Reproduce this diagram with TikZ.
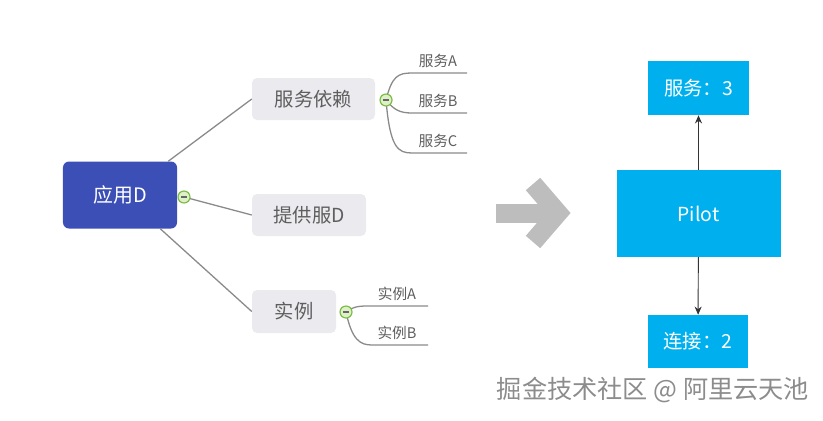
\documentclass[tikz,border=0pt]{standalone}
\usepackage{fontspec}
\newfontfamily\cjk{Noto Sans CJK SC}
\usetikzlibrary{arrows.meta}

\definecolor{appblue}{HTML}{3C4FB6}
\definecolor{topicgray}{HTML}{EBEBEF}
\definecolor{topictext}{HTML}{5E5E5E}
\definecolor{linegray}{HTML}{8A8A8A}
\definecolor{foldgreen}{HTML}{7CBB44}
\definecolor{foldfill}{HTML}{DDF0C8}
\definecolor{pilotcyan}{HTML}{00B0EE}
\definecolor{chevgray}{HTML}{BDBDBD}

\tikzset{
  root/.style={fill=appblue, text=white, rounded corners=0.18cm, font=\cjk\fontsize{17}{20}\selectfont},
  topic/.style={fill=topicgray, text=topictext, rounded corners=0.15cm, font=\cjk\fontsize{16.5}{20}\selectfont},
  leaf/.style={text=topictext, anchor=south, inner sep=2pt, font=\cjk\fontsize{12.5}{15}\selectfont},
  branch/.style={draw=linegray, line width=1.1pt},
  cyanbox/.style={fill=pilotcyan, text=white, font=\cjk\fontsize{16.5}{20}\selectfont},
  link/.style={draw=black!80, line width=0.8pt, -{Stealth[length=7pt,width=6pt]}}
}

\newcommand{\foldmark}[1]{%
  \filldraw[fill=foldfill, draw=foldgreen, line width=1pt] (#1) circle (0.18cm);
  \draw[black!60, line width=1.2pt] ([xshift=-0.09cm]#1) -- ([xshift=0.09cm]#1);
}

\begin{document}
\begin{tikzpicture}[x=0.03cm, y=-0.03cm]
  \useasboundingbox (0,0) rectangle (823,420);

  % Mind map: the application and its topics
  \node[root, minimum width=3.42cm, minimum height=2.01cm] (app) at (120,195) {应用D};
  \node[topic, minimum width=3.69cm, minimum height=1.26cm] (dep) at (313.5,99) {服务依赖};
  \node[topic, minimum width=3.42cm, minimum height=1.26cm] (prov) at (309,215) {提供服D};
  \node[topic, minimum width=2.52cm, minimum height=1.29cm] (inst) at (294,311.5) {实例};

  % fold markers
  \coordinate (f0) at (184,197);
  \coordinate (f1) at (386,100);
  \coordinate (f2) at (346,312);

  \draw[branch] ([xshift=-0.27cm]app.north east) -- (dep.west);
  \draw[branch] (f0) -- (prov.west);
  \draw[branch] ([xshift=-0.51cm]app.south east) -- (inst.west);

  % leaves of the dependency topic
  \coordinate (sa) at (467,73);
  \coordinate (sb) at (467,113);
  \coordinate (sc) at (467,153);
  \draw[branch] (f1) .. controls (392,76) and (398,73) .. (412,73) -- (sa);
  \draw[branch] (f1) .. controls (394,110) and (400,113) .. (412,113) -- (sb);
  \draw[branch] (f1) .. controls (390,148) and (398,153) .. (412,153) -- (sc);
  \node[leaf] (svca) at (438,70) {服务A};
  \node[leaf] (svcb) at (438,110) {服务B};
  \node[leaf] (svcc) at (438,150) {服务C};

  % leaves of the instance topic
  \coordinate (ia) at (428,306);
  \coordinate (ib) at (428,345);
  \draw[branch] (f2) .. controls (354,306) and (360,306) .. (370,306) -- (ia);
  \draw[branch] (f2) .. controls (352,340) and (360,345) .. (372,345) -- (ib);
  \node[leaf] (insta) at (397,303) {实例A};
  \node[leaf] (instb) at (397,342) {实例B};

  \foldmark{f0}
  \foldmark{f1}
  \foldmark{f2}

  % big gray arrow
  \draw[chevgray, line width=0.57cm] (496,213) -- (560,213);
  \draw[chevgray, line width=0.57cm, line join=miter] (533,184) -- (558,213) -- (533,242);

  % Pilot side
  \node[cyanbox, minimum width=4.92cm, minimum height=2.61cm] (pilot) at (698.5,213.5) {Pilot};
  \node[cyanbox, minimum width=3.03cm, minimum height=1.62cm] (svc) at (698.5,88) {服务：3};
  \node[cyanbox, minimum width=3.0cm, minimum height=1.59cm] (conn) at (698,341.5) {连接：2};

  \draw[link] (pilot) -- (svc);
  \draw[link] (pilot) -- (conn);

  % watermark
  \node[text=black!45, font=\cjk\fontsize{21.5}{24}\selectfont] (mark) at (653,390) {掘金技术社区 @ 阿里云天池};
\end{tikzpicture}
\end{document}
